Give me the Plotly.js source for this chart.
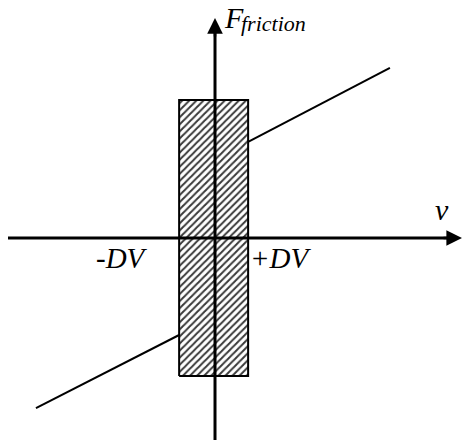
<!DOCTYPE html>
<html>
<head>
<meta charset="utf-8">
<script src="https://cdn.plot.ly/plotly-3.0.1.min.js"></script>
<style>html,body{margin:0;padding:0;background:#fff;}#chart{width:462px;height:443px;}</style>
</head>
<body>
<div id="chart"></div>
<script>
// Stick zone (-DV .. +DV) and static friction limits
const zoneV = [-1.04, 0.96];
const zoneF = [-1.0, 1.0];
// Slip branches (viscous friction lines)
const slipPosV = [0.96, 5.07];
const slipPosF = [0.696, 1.232];
const slipNegV = [-1.04, -5.19];
const slipNegF = [-0.703, -1.232];
// Axis extents
const vAxis = [-6.0, 7.159];
const fAxis = [-1.464, 1.594];
// Labels
const labelY = ["F", "friction"];
const labelX = "v";
const zoneLabels = ["-DV", "+DV"];

function serifFont(sz) {
  return {family: "Liberation Serif", size: sz, color: "black"};
}

const traces = [
  {
    x: [zoneV[0], zoneV[1], zoneV[1], zoneV[0], zoneV[0]],
    y: [zoneF[0], zoneF[0], zoneF[1], zoneF[1], zoneF[0]],
    mode: "lines", fill: "toself",
    fillcolor: "white",
    fillpattern: {shape: "/", size: 5, solidity: 0.4, fgcolor: "#3a3a3a", bgcolor: "white"},
    line: {color: "black", width: 2},
    hoverinfo: "skip"
  },
  {x: slipPosV, y: slipPosF, mode: "lines", line: {color: "black", width: 2}, hoverinfo: "skip"},
  {x: slipNegV, y: slipNegF, mode: "lines", line: {color: "black", width: 2}, hoverinfo: "skip"},
  {x: [vAxis[0], vAxis[1] - 0.2], y: [0, 0], mode: "lines", line: {color: "black", width: 3}, hoverinfo: "skip"},
  {x: [0, 0], y: [fAxis[0], fAxis[1] - 0.05], mode: "lines", line: {color: "black", width: 3}, hoverinfo: "skip"}
];

function it(s) { return "<i>" + s + "</i>"; }

const annotations = [
  // arrowheads
  {x: 0, y: fAxis[1], xref: "x", yref: "y", ax: 0, ay: 20, text: "", showarrow: true,
   arrowhead: 2, arrowsize: 1.25, arrowwidth: 2.5, arrowcolor: "black", standoff: 0},
  {x: vAxis[1], y: 0, xref: "x", yref: "y", ax: -20, ay: 0, text: "", showarrow: true,
   arrowhead: 2, arrowsize: 1.25, arrowwidth: 2.5, arrowcolor: "black", standoff: 0},
  // F_friction
  {x: 0, y: fAxis[1], xref: "x", yref: "y", text: it(labelY[0]), showarrow: false,
   xanchor: "left", yanchor: "middle", xshift: 7, yshift: 1, font: serifFont(30)},
  {x: 0, y: fAxis[1], xref: "x", yref: "y", text: it(labelY[1]), showarrow: false,
   xanchor: "left", yanchor: "middle", xshift: 24, yshift: -5, font: serifFont(22)},
  // v
  {x: vAxis[1], y: 0, xref: "x", yref: "y", text: it(labelX), showarrow: false,
   xanchor: "center", yanchor: "middle", xshift: -20, yshift: 29, font: serifFont(30)},
  // -DV, +DV
  {x: zoneV[0], y: 0, xref: "x", yref: "y", text: it(zoneLabels[0]), showarrow: false,
   xanchor: "right", yanchor: "middle", xshift: -29, yshift: -20, font: serifFont(29)},
  {x: zoneV[1], y: 0, xref: "x", yref: "y", text: it(zoneLabels[1]), showarrow: false,
   xanchor: "left", yanchor: "middle", xshift: 0, yshift: -20, font: serifFont(29)}
];

const layout = {
  width: 462, height: 443,
  margin: {l: 0, r: 0, t: 0, b: 0},
  font: {family: "Liberation Serif", color: "black"},
  paper_bgcolor: "white", plot_bgcolor: "white",
  showlegend: false,
  xaxis: {range: [-6.232, 7.159], visible: false, fixedrange: true},
  yaxis: {range: [-1.4855, 1.7246], visible: false, fixedrange: true},
  annotations: annotations
};

Plotly.newPlot("chart", traces, layout, {staticPlot: true, displayModeBar: false});
</script>
</body>
</html>
